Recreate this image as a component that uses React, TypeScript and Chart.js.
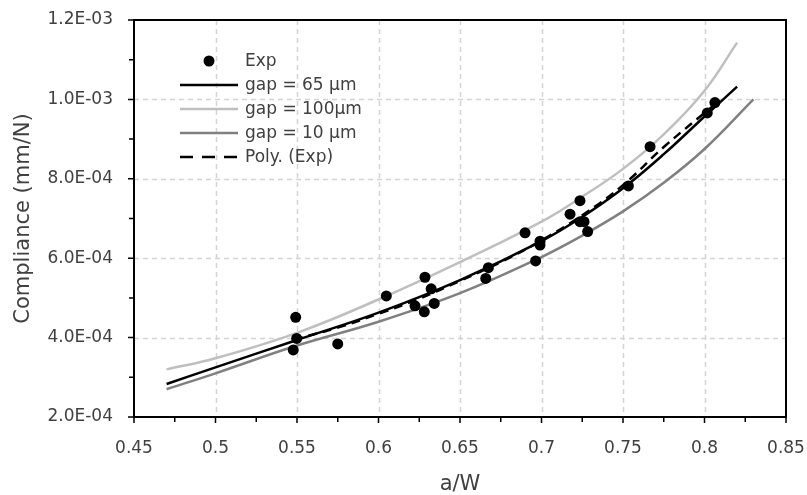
import React, { useEffect, useRef } from "react";
import { Chart, registerables } from "chart.js";

Chart.register(...registerables);

// ---------- Data ----------
const expX = [0.5492, 0.5477, 0.5498, 0.575, 0.6048, 0.6224, 0.6285, 0.6323, 0.6281, 0.6342, 0.6674, 0.6658, 0.6899, 0.6991, 0.6991, 0.6964, 0.7175, 0.7236, 0.7236, 0.7261, 0.7283, 0.7533, 0.7666, 0.8064, 0.8017];
const expY = [4.51e-4, 3.69e-4, 3.98e-4, 3.84e-4, 5.05e-4, 4.8e-4, 5.52e-4, 5.23e-4, 4.65e-4, 4.86e-4, 5.76e-4, 5.49e-4, 6.64e-4, 6.43e-4, 6.33e-4, 5.93e-4, 7.11e-4, 7.45e-4, 6.92e-4, 6.92e-4, 6.67e-4, 7.82e-4, 8.81e-4, 9.92e-4, 9.66e-4];

const gap65X = [0.47, 0.5, 0.55, 0.6, 0.65, 0.7, 0.725, 0.75, 0.775, 0.8, 0.82];
const gap65Y = [2.83e-4, 3.25e-4, 3.94e-4, 4.63e-4, 5.45e-4, 6.43e-4, 7.04e-4, 7.76e-4, 8.62e-4, 9.57e-4, 1.032e-3];

const gap100X = [0.47, 0.5, 0.55, 0.6, 0.65, 0.7, 0.725, 0.75, 0.775, 0.8, 0.82];
const gap100Y = [3.2e-4, 3.48e-4, 4.12e-4, 4.96e-4, 5.9e-4, 6.92e-4, 7.55e-4, 8.25e-4, 9.12e-4, 1.022e-3, 1.143e-3];

const gap10X = [0.47, 0.5, 0.55, 0.6, 0.65, 0.7, 0.725, 0.75, 0.775, 0.8, 0.83];
const gap10Y = [2.7e-4, 3.1e-4, 3.8e-4, 4.4e-4, 5.12e-4, 6.03e-4, 6.57e-4, 7.18e-4, 7.9e-4, 8.75e-4, 1.0e-3];

const polyX = [0.548, 0.575, 0.6, 0.625, 0.65, 0.675, 0.7, 0.725, 0.75, 0.775, 0.806];
const polyY = [3.95e-4, 4.25e-4, 4.6e-4, 4.98e-4, 5.43e-4, 5.9e-4, 6.45e-4, 7.08e-4, 7.84e-4, 8.8e-4, 9.86e-4];

const seriesLabels = ["Exp", "gap = 65 µm", "gap = 100µm", "gap = 10 µm", "Poly. (Exp)"];

const xTicks = [0.45, 0.5, 0.55, 0.6, 0.65, 0.7, 0.75, 0.8, 0.85];
const xTickLabels = ["0.45", "0.5", "0.55", "0.6", "0.65", "0.7", "0.75", "0.8", "0.85"];
const xMinorTicks = [0.475, 0.525, 0.575, 0.625, 0.675, 0.725, 0.775, 0.825];

const yTicks = [2e-4, 4e-4, 6e-4, 8e-4, 1e-3, 1.2e-3];
const yTickLabels = ["2.0E-04", "4.0E-04", "6.0E-04", "8.0E-04", "1.0E-03", "1.2E-03"];
const yMinorTicks = [3e-4, 5e-4, 7e-4, 9e-4, 1.1e-3];

const xTitle = "a/W";
const yTitle = "Compliance (mm/N)";

const FONT = "'DejaVu Sans', sans-serif";
const TEXT = "#404040";

const toPts = (xs: number[], ys: number[]) => xs.map((x, i) => ({ x, y: ys[i] }));

const zeroPad = (s: any) => {
  s.paddingTop = 0;
  s.paddingBottom = 0;
  s.paddingLeft = 0;
  s.paddingRight = 0;
};

const decorPlugin = {
  id: "decor",
  beforeDatasetsDraw(chart: any) {
    const { ctx, chartArea: a, scales } = chart;
    const xs = scales.x, ys = scales.y;
    ctx.save();
    ctx.strokeStyle = "#d4d4d4";
    ctx.lineWidth = 1.5;
    ctx.setLineDash([5, 4]);
    xTicks.slice(1, -1).forEach((v) => {
      const px = Math.round(xs.getPixelForValue(v)) + 0.5;
      ctx.beginPath();
      ctx.moveTo(px, a.top);
      ctx.lineTo(px, a.bottom);
      ctx.stroke();
    });
    yTicks.slice(1, -1).forEach((v) => {
      const py = Math.round(ys.getPixelForValue(v)) + 0.5;
      ctx.beginPath();
      ctx.moveTo(a.left, py);
      ctx.lineTo(a.right, py);
      ctx.stroke();
    });
    ctx.restore();
  },
  afterDraw(chart: any) {
    const { ctx, chartArea: a, scales } = chart;
    const xs = scales.x, ys = scales.y;
    ctx.save();
    ctx.setLineDash([]);
    ctx.strokeStyle = "#000";
    ctx.lineWidth = 2;
    ctx.strokeRect(a.left, a.top, a.right - a.left, a.bottom - a.top);
    // ticks
    ctx.lineWidth = 1.5;
    ctx.beginPath();
    xTicks.forEach((v) => {
      const px = xs.getPixelForValue(v);
      ctx.moveTo(px, a.bottom);
      ctx.lineTo(px, a.bottom + 6);
    });
    xMinorTicks.forEach((v) => {
      const px = xs.getPixelForValue(v);
      ctx.moveTo(px, a.bottom);
      ctx.lineTo(px, a.bottom + 5);
    });
    yTicks.forEach((v) => {
      const py = ys.getPixelForValue(v);
      ctx.moveTo(a.left, py);
      ctx.lineTo(a.left - 6, py);
    });
    yMinorTicks.forEach((v) => {
      const py = ys.getPixelForValue(v);
      ctx.moveTo(a.left, py);
      ctx.lineTo(a.left - 5, py);
    });
    ctx.stroke();

    // legend
    const lx0 = 180, lx1 = 238, tx = 245, y0 = 61, dy = 24;
    ctx.font = `17px ${FONT}`;
    ctx.textBaseline = "middle";
    ctx.textAlign = "left";
    chart.data.datasets.forEach((ds: any, i: number) => {
      const y = y0 + i * dy;
      if (ds.showLine === false) {
        ctx.fillStyle = ds.backgroundColor;
        ctx.beginPath();
        ctx.arc((lx0 + lx1) / 2, y, 5.5, 0, Math.PI * 2);
        ctx.fill();
      } else {
        ctx.strokeStyle = ds.borderColor;
        ctx.lineWidth = ds.borderWidth;
        ctx.setLineDash(ds.borderDash ? [13, 9] : []);
        ctx.beginPath();
        ctx.moveTo(lx0, y);
        ctx.lineTo(lx1, y);
        ctx.stroke();
        ctx.setLineDash([]);
      }
      ctx.fillStyle = TEXT;
      ctx.fillText(ds.label, tx, y + 1);
    });
    ctx.restore();
  },
};

export default function App() {
  const ref = useRef<HTMLCanvasElement | null>(null);

  useEffect(() => {
    if (!ref.current) return;
    const lineCommon = { showLine: true, borderWidth: 2.5, pointRadius: 0, tension: 0.4 };
    const chart = new Chart(ref.current, {
      type: "scatter",
      data: {
        datasets: [
          {
            label: seriesLabels[0],
            data: toPts(expX, expY),
            showLine: false,
            pointRadius: 5.5,
            pointBackgroundColor: "#000",
            backgroundColor: "#000",
            borderWidth: 0,
            pointBorderWidth: 0,
          },
          { ...lineCommon, label: seriesLabels[1], data: toPts(gap65X, gap65Y), borderColor: "#000" },
          { ...lineCommon, label: seriesLabels[2], data: toPts(gap100X, gap100Y), borderColor: "#bfbfbf" },
          { ...lineCommon, label: seriesLabels[3], data: toPts(gap10X, gap10Y), borderColor: "#808080" },
          { ...lineCommon, label: seriesLabels[4], data: toPts(polyX, polyY), borderColor: "#000", borderDash: [9, 6] },
        ] as any,
      },
      options: {
        responsive: false,
        animation: false,
        events: [],
        layout: { padding: { left: 0, top: 20, right: 21, bottom: 0 } },
        plugins: { legend: { display: false }, tooltip: { enabled: false } },
        scales: {
          x: {
            type: "linear",
            min: 0.45,
            max: 0.85,
            afterBuildTicks: (s: any) => {
              s.ticks = xTicks.map((v) => ({ value: v }));
            },
            afterFit: (s: any) => {
              s.height = 78;
              zeroPad(s);
            },
            grid: { display: false, drawTicks: false },
            border: { display: false },
            ticks: {
              padding: 21,
              color: TEXT,
              font: { family: FONT, size: 17 },
              maxRotation: 0,
              autoSkip: false,
              callback: (_v: any, i: number) => xTickLabels[i],
            },
            title: {
              display: true,
              text: xTitle,
              color: TEXT,
              font: { family: FONT, size: 21, lineHeight: 1 },
              padding: { top: 0, bottom: 0 },
            },
          },
          y: {
            type: "linear",
            min: 2e-4,
            max: 1.2e-3,
            afterBuildTicks: (s: any) => {
              s.ticks = yTicks.map((v) => ({ value: v }));
            },
            afterFit: (s: any) => {
              s.width = 134;
              zeroPad(s);
            },
            grid: { display: false, drawTicks: false },
            border: { display: false },
            ticks: {
              padding: 21,
              color: TEXT,
              font: { family: FONT, size: 17 },
              autoSkip: false,
              callback: (_v: any, i: number) => yTickLabels[i],
            },
            title: {
              display: true,
              text: yTitle,
              color: TEXT,
              font: { family: FONT, size: 21, lineHeight: 1 },
              padding: { top: 13, bottom: 0 },
            },
          },
        },
      },
      plugins: [decorPlugin],
    } as any);
    return () => chart.destroy();
  }, []);

  return (
    <div style={{ position: "absolute", left: 0, top: 0, width: 807, height: 495, background: "#fff" }}>
      <canvas ref={ref} width={807} height={495} style={{ width: 807, height: 495, display: "block" }} />
    </div>
  );
}
